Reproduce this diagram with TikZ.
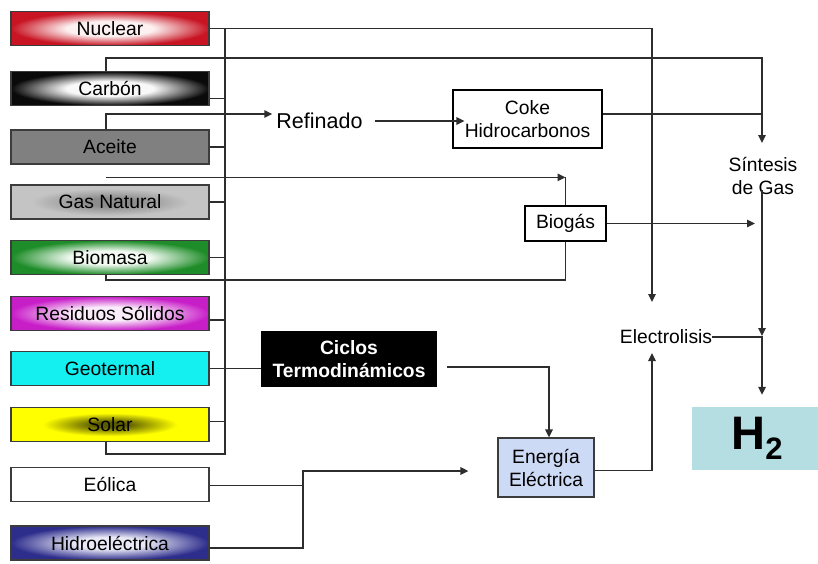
\documentclass[tikz,border=0pt]{standalone}
\usepackage{fontspec}
\setmainfont{Liberation Sans}
\usetikzlibrary{arrows.meta,calc}

\definecolor{ln}{RGB}{45,45,45}
\definecolor{bd}{RGB}{60,60,60}
\definecolor{nucC}{RGB}{252,240,240}
\definecolor{nucE}{RGB}{200,20,35}
\definecolor{carC}{RGB}{248,248,248}
\definecolor{carE}{RGB}{10,10,10}
\definecolor{aceite}{RGB}{128,128,128}
\definecolor{gasC}{RGB}{140,140,140}
\definecolor{gasE}{RGB}{196,196,196}
\definecolor{bioC}{RGB}{242,250,242}
\definecolor{bioE}{RGB}{30,140,40}
\definecolor{resC}{RGB}{250,235,250}
\definecolor{resE}{RGB}{200,30,200}
\definecolor{geo}{RGB}{20,240,240}
\definecolor{solC}{RGB}{90,90,0}
\definecolor{solE}{RGB}{255,255,0}
\definecolor{hidC}{RGB}{232,232,246}
\definecolor{hidE}{RGB}{45,45,140}
\definecolor{ener}{RGB}{205,218,245}
\definecolor{htwo}{RGB}{180,222,226}

\pgfdeclareradialshading{shNuc}{\pgfpoint{0bp}{0bp}}{color(0bp)=(nucC); color(11bp)=(nucC); color(25bp)=(nucE); color(50bp)=(nucE)}
\pgfdeclareradialshading{shCar}{\pgfpoint{0bp}{0bp}}{color(0bp)=(carC); color(11bp)=(carC); color(25bp)=(carE); color(50bp)=(carE)}
\pgfdeclareradialshading{shGas}{\pgfpoint{0bp}{0bp}}{color(0bp)=(gasC); color(6bp)=(gasC); color(20bp)=(gasE); color(50bp)=(gasE)}
\pgfdeclareradialshading{shBio}{\pgfpoint{0bp}{0bp}}{color(0bp)=(bioC); color(10bp)=(bioC); color(25bp)=(bioE); color(50bp)=(bioE)}
\pgfdeclareradialshading{shRes}{\pgfpoint{0bp}{0bp}}{color(0bp)=(resC); color(10bp)=(resC); color(25bp)=(resE); color(50bp)=(resE)}
\pgfdeclareradialshading{shSol}{\pgfpoint{0bp}{0bp}}{color(0bp)=(solC); color(4bp)=(solC); color(17bp)=(solE); color(50bp)=(solE)}
\pgfdeclareradialshading{shHid}{\pgfpoint{0bp}{0bp}}{color(0bp)=(hidC); color(9bp)=(hidC); color(25bp)=(hidE); color(50bp)=(hidE)}

\newcommand\mainfs{\fontsize{19.3}{23}\selectfont}
\newcommand\reffs{\fontsize{21.5}{25}\selectfont}

\tikzset{
  srcbox/.style={draw=bd, line width=1.3pt, minimum width=198pt, minimum height=34pt, inner sep=0pt},
  plainbox/.style={draw=black, line width=1.2pt, fill=white, inner sep=0pt, align=center},
  conn/.style={draw=ln, line width=1.5pt},
  arr/.style={conn, -{Triangle[length=8pt,width=7.5pt]}},
}

\begin{document}
\begin{tikzpicture}[x=1pt,y=-1pt,font=\mainfs]
\useasboundingbox[fill=white] (0,0) rectangle (818,563);

% sources
\node[srcbox, shade, shading=shNuc] (nuc) at (110,28.5) {Nuclear};
\node[srcbox, shade, shading=shCar] (car) at (110,88.5) {Carbón};
\node[srcbox, fill=aceite] (ace) at (110,147) {Aceite};
\node[srcbox, shade, shading=shGas] (gas) at (110,202) {Gas Natural};
\node[srcbox, shade, shading=shBio] (bio) at (110,257.5) {Biomasa};
\node[srcbox, shade, shading=shRes] (res) at (110,313.5) {Residuos Sólidos};
\node[srcbox, fill=geo] (geo) at (110,368.5) {Geotermal};
\node[srcbox, shade, shading=shSol] (sol) at (110,424.5) {Solar};
\node[srcbox, fill=white] (eol) at (110,484.5) {Eólica};
\node[srcbox, shade, shading=shHid] (hid) at (110,543) {Hidroeléctrica};

% processes
\node[font=\reffs, inner sep=0pt] (ref) at (319.5,121) {Refinado};
\node[plainbox, minimum width=149pt, minimum height=58pt] (coke) at (527.5,119) {Coke\\Hidrocarbonos};
\node[plainbox, minimum width=81pt, minimum height=35pt] (biog) at (565.5,223.5) {Biogás};
\node[align=center, inner sep=0pt] (sin) at (763,176) {Síntesis\\de Gas};
\node[inner sep=0pt] (ele) at (666,337) {Electrolisis};
\node[fill=black, text=white, font=\mainfs\bfseries, minimum width=176pt, minimum height=56pt, inner sep=0pt, align=center] (cic) at (349,359) {Ciclos\\Termodinámicos};
\node[draw=bd, line width=1.3pt, fill=ener, minimum width=96pt, minimum height=59pt, inner sep=0pt, align=center] (ene) at (546,467.5) {Energía\\Eléctrica};
\node[fill=htwo, minimum width=130pt, minimum height=63pt, inner sep=0pt] (h2) at (757,438.5) {\fontsize{47}{50}\selectfont\bfseries H\raisebox{-10pt}{\fontsize{31}{31}\selectfont 2}};

% helper coordinates
\coordinate (busB) at (225,454);
\coordinate (eleTop) at (652,302);
\coordinate (eleBot) at (652,353);
\coordinate (sinTop) at (762,143);
\coordinate (sinBot) at (762,190);
\coordinate (junc) at (762,336);
\coordinate (eh) at (303,471);

% bus and stubs
\draw[conn] ([xshift=-4pt]sol.south) |- (busB) -- (busB |- nuc.east);
\draw[conn] ([yshift=-10pt]car.east) -- ++(16,0);
\draw[conn] (ace.east) -- ++(16,0);
\draw[conn] (gas.east) -- ++(16,0);
\draw[conn] (bio.east) -- ++(16,0);
\draw[conn] ([yshift=-6.5pt]res.east) -- ++(16,0);
\draw[conn] ([yshift=3pt]sol.east) -- ++(16,0);
\draw[conn] (geo.east) -- (geo.east -| cic.west);

% nuclear to electrolisis
\draw[arr] (nuc.east) -| (eleTop);
% carbon to sintesis
\draw[arr] ([xshift=-4pt]car.north) -- ++(0,-13) -| (sinTop);
% coke to sintesis line
\draw[conn] ([yshift=5pt]coke.east) -- ([yshift=5pt]coke.east -| sinTop);
% aceite to refinado
\draw[arr] ([xshift=-4pt]ace.north) |- ([xshift=-4pt,yshift=7pt]ref.west);
% refinado to coke
\draw[arr] ([xshift=12pt]ref.east) -- ([xshift=12pt]ref.east -| coke.west);
% gas natural to biogas
\coordinate (gasS) at ([xshift=-4pt,yshift=7pt]gas.north);
\draw[arr] (gasS) -- (gasS -| biog.north);
\draw[conn] (gasS -| biog.north) -- (biog.north);
% biomasa to biogas
\draw[conn] ([xshift=-4pt]bio.south) -- ++(0,5) -| (biog.south);
% biogas to sintesis column
\draw[arr] (biog.east) -- ($(biog.east -| sinTop)+(-7,0)$);
% sintesis down to H2
\draw[arr] (sinBot) -- (junc);
\draw[arr] (junc) -- ([yshift=12pt]h2.north -| junc);
% electrolisis to column
\draw[conn] (ele.east) -- (ele.east -| junc);
% ciclos to energia
\draw[arr] ([xshift=10pt,yshift=-8pt]cic.east) -| ([xshift=3pt]ene.north);
% energia to electrolisis
\draw[arr] ([yshift=-3pt]ene.east) -| (eleBot);
% eolica / hidro to energia
\draw[conn] ([yshift=-1pt]eol.east) -- ([yshift=-1pt]eol.east -| eh);
\draw[arr] ([yshift=-5pt]hid.east) -| (eh) -- ($(eh -| ene.west)+(-29,0)$);
\end{tikzpicture}
\end{document}
